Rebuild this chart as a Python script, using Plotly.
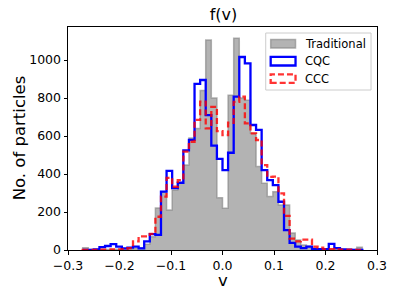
import numpy as np
import plotly.graph_objects as go

# ---- data ----
v_min, v_max = -0.2715, 0.2715
n_bins = 50

traditional = [12, 2, 2, 3, 2, 3, 4, 4, 5, 8,
               12, 30, 70, 221, 307, 211, 316, 351, 447, 589,
               640, 840, 1105, 800, 275, 220, 815, 1115, 800, 789,
               614, 439, 351, 281, 307, 237, 237, 89, 53, 26,
               20, 10, 4, 3, 3, 3, 2, 2, 3, 14]

cqc = [0, 1, 3, 15, 21, 31, 18, 9, 12, 18,
       9, 45, 84, 80, 307, 417, 326, 354, 524, 580,
       875, 895, 710, 550, 480, 421, 512, 807, 1016, 982,
       658, 632, 421, 368, 342, 254, 105, 37, 18, 10,
       18, 5, 5, 5, 32, 10, 3, 2, 1, 1]

ccc = [1, 1, 1, 2, 2, 3, 3, 5, 10, 45,
       72, 72, 85, 175, 281, 380, 333, 368, 518, 570,
       685, 781, 640, 754, 626, 605, 670, 780, 807, 667,
       614, 579, 447, 385, 386, 298, 180, 60, 45, 55,
       55, 18, 12, 5, 5, 3, 2, 2, 1, 1]

x_ticks = [-0.3, -0.2, -0.1, 0.0, 0.1, 0.2, 0.3]
x_tick_text = ["\u22120.3", "\u22120.2", "\u22120.1", "0.0", "0.1", "0.2", "0.3"]
y_ticks = [0, 200, 400, 600, 800, 1000]

edges = np.linspace(v_min, v_max, n_bins + 1)


def step_xy(counts):
    xs = [edges[0]] + list(edges[:-1]) + [edges[-1]]
    ys = [0] + list(counts) + [0]
    return xs, ys


fig = go.Figure()

xs, ys = step_xy(traditional)
fig.add_trace(go.Scatter(x=xs, y=ys, mode="lines", line_shape="hv",
                         fill="tozeroy", fillcolor="rgba(128,128,128,0.6)",
                         line=dict(color="rgba(128,128,128,0.6)", width=1.5),
                         name="Traditional", showlegend=False, hoverinfo="skip"))
xs, ys = step_xy(cqc)
fig.add_trace(go.Scatter(x=xs, y=ys, mode="lines", line_shape="hv",
                         line=dict(color="blue", width=2.3),
                         name="CQC", showlegend=False, hoverinfo="skip"))
xs, ys = step_xy(ccc)
fig.add_trace(go.Scatter(x=xs, y=ys, mode="lines", line_shape="hv",
                         line=dict(color="rgba(255,0,0,0.8)", width=2.3, dash="6px,3px"),
                         name="CCC", showlegend=False, hoverinfo="skip"))

W, H = 399, 299
L, R, T, B = 68, 379, 27, 250


def px(x):
    return (x - L) / (R - L)


def py(y):
    return (B - y) / (B - T)


shapes = []
annotations = []
# legend frame
shapes.append(dict(type="rect", xref="paper", yref="paper",
                   x0=px(267), x1=px(373), y0=py(90), y1=py(33),
                   line=dict(color="rgb(204,204,204)", width=1),
                   fillcolor="rgba(255,255,255,0.8)", layer="above"))
rows = [("Traditional", 43.8), ("CQC", 61.2), ("CCC", 78.6)]
styles = [
    dict(fillcolor="rgba(128,128,128,0.6)", line=dict(color="rgba(128,128,128,0.6)", width=1.5)),
    dict(fillcolor="rgba(0,0,0,0)", line=dict(color="blue", width=2.3)),
    dict(fillcolor="rgba(0,0,0,0)", line=dict(color="rgba(255,0,0,0.8)", width=2.3, dash="6px,3px")),
]
for (label, yc), st in zip(rows, styles):
    shapes.append(dict(type="rect", xref="paper", yref="paper",
                       x0=px(272), x1=px(297), y0=py(yc + 4.3), y1=py(yc - 4.3),
                       layer="above", **st))
    annotations.append(dict(text=label, xref="paper", yref="paper",
                            x=px(305), y=py(yc), xanchor="left", yanchor="middle",
                            showarrow=False,
                            font=dict(family="DejaVu Sans", size=11.5, color="black")))

# axis titles
annotations.append(dict(text="v", xref="paper", yref="paper", x=px(224), y=py(280),
                        xanchor="center", yanchor="middle", showarrow=False,
                        font=dict(family="DejaVu Sans", size=16.5, color="black")))
annotations.append(dict(text="No. of particles", xref="paper", yref="paper",
                        x=px(19), y=py(138), xanchor="center", yanchor="middle",
                        textangle=-90, showarrow=False,
                        font=dict(family="DejaVu Sans", size=16.5, color="black")))

fig.update_layout(
    width=W, height=H,
    margin=dict(l=L, r=W - R, t=T, b=H - B, pad=0),
    paper_bgcolor="white", plot_bgcolor="white",
    title=dict(text="f(v)", x=(L + R) / 2 / W, xanchor="center",
               y=1 - 14 / H, yanchor="middle", yref="container",
               font=dict(family="DejaVu Sans", size=16, color="black")),
    font=dict(family="DejaVu Sans", color="black"),
    shapes=shapes, annotations=annotations,
    showlegend=False, hovermode=False,
)
fig.update_xaxes(range=[-0.3, 0.3], tickmode="array", tickvals=x_ticks, ticktext=x_tick_text,
                 showgrid=False, zeroline=False, showline=True, mirror=True,
                 linecolor="black", linewidth=1, ticks="outside", ticklen=3.5,
                 tickcolor="black", tickfont=dict(size=12.5, family="DejaVu Sans"))
fig.update_yaxes(range=[0, 1174], tickmode="array", tickvals=y_ticks,
                 showgrid=False, zeroline=False, showline=True, mirror=True,
                 linecolor="black", linewidth=1, ticks="outside", ticklen=3.5,
                 tickcolor="black", tickfont=dict(size=12.5, family="DejaVu Sans"))

fig.write_html("out.html", config={"displayModeBar": False, "staticPlot": True},
               post_script="document.body.style.margin='0';document.body.style.overflow='hidden';")
